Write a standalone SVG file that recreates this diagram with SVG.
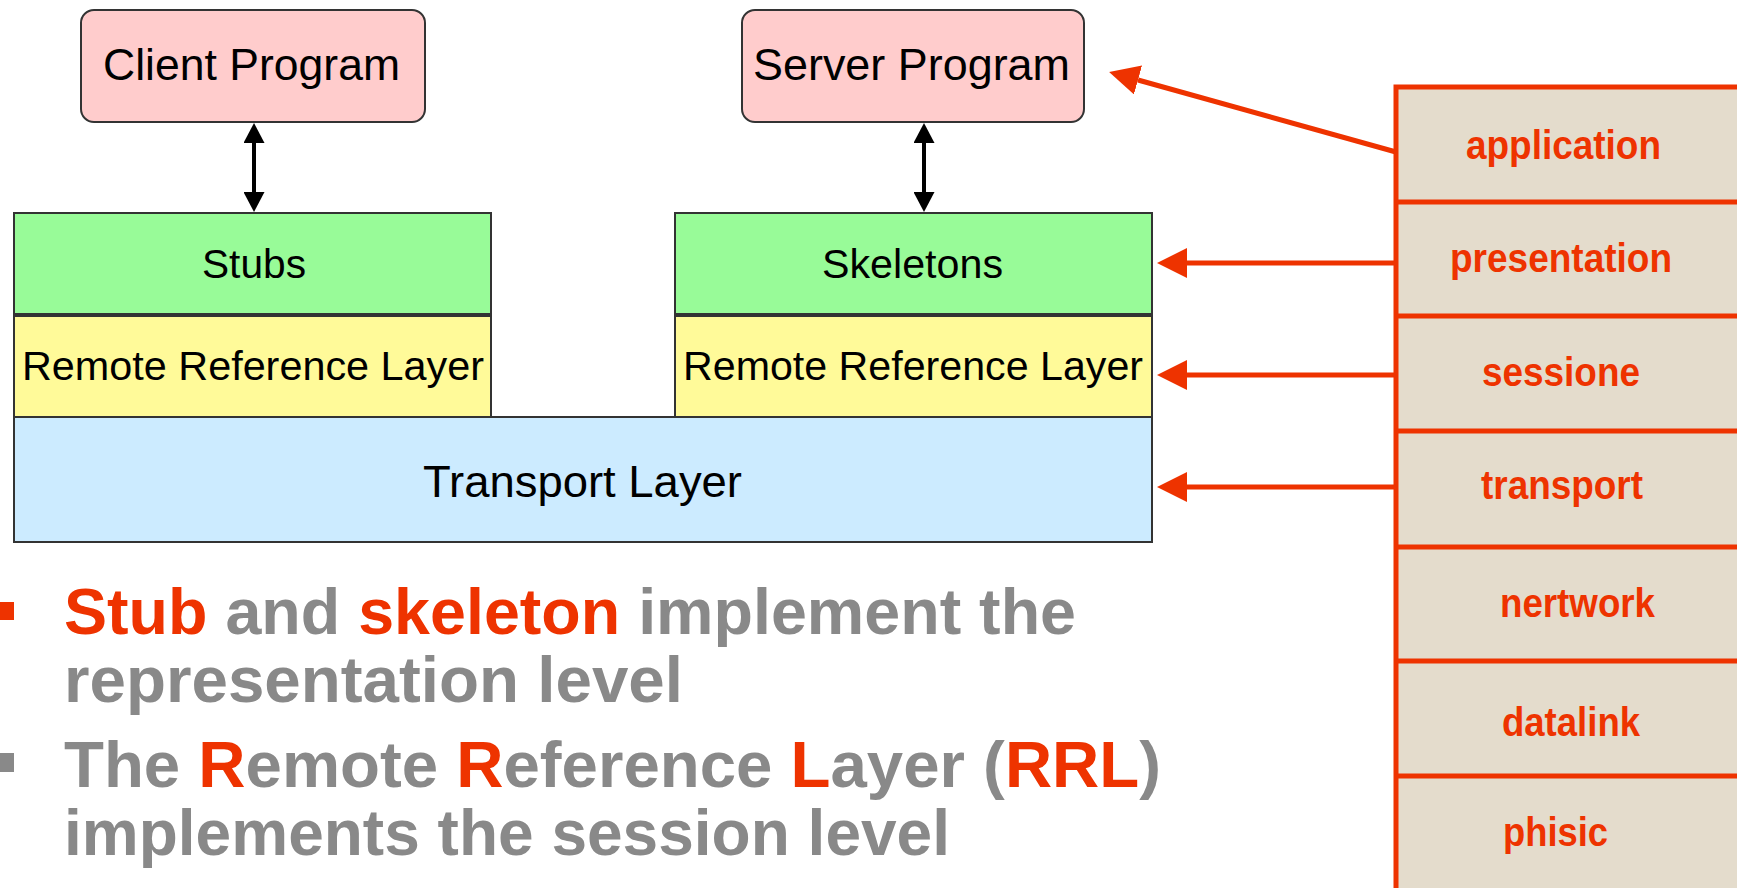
<svg xmlns="http://www.w3.org/2000/svg" width="1737" height="888" viewBox="0 0 1737 888">
  <style>
    .box { stroke: #333333; stroke-width: 2; }
    .prog { fill: #FFCCCC; }
    .green { fill: #98FB98; }
    .yellow { fill: #FFFA99; }
    .blue { fill: #CCEBFF; }
    .lbl { font-family: "Liberation Sans", Arial, sans-serif; fill: #000000; text-anchor: start; }
    .osi { fill: #E4DCCC; stroke: #EE3300; stroke-width: 5; }
    .osiline { stroke: #EE3300; stroke-width: 5; }
    .ositxt { font-family: "Liberation Sans", Arial, sans-serif; font-weight: bold; font-size: 40px; fill: #EE3300; }
    .bul { font-family: "Liberation Sans", Arial, sans-serif; font-weight: bold; font-size: 64px; fill: #898989; }
    .red { fill: #EE3300; }
    .blk { stroke: #000000; stroke-width: 4; fill: none; }
    .redln { stroke: #EE3300; stroke-width: 5; fill: none; }
  </style>
  <defs>
    <marker id="blackHead" viewBox="0 0 20 21" refX="0" refY="10.5" markerWidth="20" markerHeight="21" markerUnits="userSpaceOnUse" orient="auto-start-reverse">
      <path d="M0,0 L20,10.5 L0,21 Z" fill="#000000"/>
    </marker>
    <marker id="redHead" viewBox="0 0 30 30" refX="0" refY="15" markerWidth="30" markerHeight="30" markerUnits="userSpaceOnUse" orient="auto">
      <path d="M0,0 L30,15 L0,30 Z" fill="#EE3300"/>
    </marker>
  </defs>

  <!-- OSI reference stack -->
  <g id="osi-stack">
    <rect class="osi" x="1396" y="87" width="360" height="820"/>
    <line class="osiline" x1="1396" y1="202" x2="1745" y2="202"/>
    <line class="osiline" x1="1396" y1="316" x2="1745" y2="316"/>
    <line class="osiline" x1="1396" y1="431" x2="1745" y2="431"/>
    <line class="osiline" x1="1396" y1="547" x2="1745" y2="547"/>
    <line class="osiline" x1="1396" y1="661" x2="1745" y2="661"/>
    <line class="osiline" x1="1396" y1="776" x2="1745" y2="776"/>
    <text class="ositxt" x="1466" y="159" textLength="195" lengthAdjust="spacingAndGlyphs">application</text>
    <text class="ositxt" x="1450" y="272" textLength="222" lengthAdjust="spacingAndGlyphs">presentation</text>
    <text class="ositxt" x="1482" y="386" textLength="158" lengthAdjust="spacingAndGlyphs">sessione</text>
    <text class="ositxt" x="1481" y="499" textLength="162" lengthAdjust="spacingAndGlyphs">transport</text>
    <text class="ositxt" x="1500" y="617" textLength="155" lengthAdjust="spacingAndGlyphs">nertwork</text>
    <text class="ositxt" x="1502" y="736" textLength="138" lengthAdjust="spacingAndGlyphs">datalink</text>
    <text class="ositxt" x="1503" y="846" textLength="105" lengthAdjust="spacingAndGlyphs">phisic</text>
  </g>

  <g id="client-program">
    <rect class="box prog" x="81" y="10" width="344" height="112" rx="13"/>
    <text class="lbl" x="103" y="80" font-size="45" textLength="297" lengthAdjust="spacingAndGlyphs">Client Program</text>
  </g>

  <g id="server-program">
    <rect class="box prog" x="742" y="10" width="342" height="112" rx="13"/>
    <text class="lbl" x="753" y="80" font-size="45" textLength="317" lengthAdjust="spacingAndGlyphs">Server Program</text>
  </g>

  <g id="stubs">
    <rect class="box green" x="14" y="213" width="477" height="101"/>
    <text class="lbl" x="202" y="278" font-size="40" textLength="104" lengthAdjust="spacingAndGlyphs">Stubs</text>
  </g>

  <g id="skeletons">
    <rect class="box green" x="675" y="213" width="477" height="101"/>
    <text class="lbl" x="822" y="278" font-size="40" textLength="181" lengthAdjust="spacingAndGlyphs">Skeletons</text>
  </g>

  <g id="transport-layer">
    <rect class="box blue" x="14" y="417" width="1138" height="125"/>
    <text class="lbl" x="423" y="497" font-size="45" textLength="319" lengthAdjust="spacingAndGlyphs">Transport Layer</text>
  </g>

  <g id="rrl-client">
    <rect class="box yellow" x="14" y="316" width="477" height="101"/>
    <text class="lbl" x="22" y="380" font-size="41" textLength="462" lengthAdjust="spacingAndGlyphs">Remote Reference Layer</text>
  </g>

  <g id="rrl-server">
    <rect class="box yellow" x="675" y="316" width="477" height="101"/>
    <text class="lbl" x="683" y="380" font-size="41" textLength="460" lengthAdjust="spacingAndGlyphs">Remote Reference Layer</text>
  </g>

  <g id="connectors">
    <line class="blk" x1="254" y1="143" x2="254" y2="192" marker-start="url(#blackHead)" marker-end="url(#blackHead)"/>
    <line class="blk" x1="924" y1="143" x2="924" y2="192" marker-start="url(#blackHead)" marker-end="url(#blackHead)"/>
    <line class="redln" x1="1396" y1="152" x2="1138" y2="80" marker-end="url(#redHead)"/>
    <line class="redln" x1="1396" y1="263" x2="1187" y2="263" marker-end="url(#redHead)"/>
    <line class="redln" x1="1396" y1="375" x2="1187" y2="375" marker-end="url(#redHead)"/>
    <line class="redln" x1="1396" y1="487" x2="1187" y2="487" marker-end="url(#redHead)"/>
  </g>

  <!-- bullet list -->
  <g id="notes">
    <rect class="red" x="-4" y="602" width="18" height="18"/>
    <rect x="-4" y="753" width="18" height="19" fill="#898989"/>
    <text class="bul" x="64" y="634" textLength="1012" lengthAdjust="spacingAndGlyphs"><tspan class="red">Stub</tspan> and <tspan class="red">skeleton</tspan> implement the</text>
    <text class="bul" x="64" y="702" textLength="619" lengthAdjust="spacingAndGlyphs">representation level</text>
    <text class="bul" x="64" y="787" textLength="1097" lengthAdjust="spacingAndGlyphs">The <tspan class="red">R</tspan>emote <tspan class="red">R</tspan>eference <tspan class="red">L</tspan>ayer (<tspan class="red">RRL</tspan>)</text>
    <text class="bul" x="64" y="855" textLength="886" lengthAdjust="spacingAndGlyphs">implements the session level</text>
  </g>
</svg>
